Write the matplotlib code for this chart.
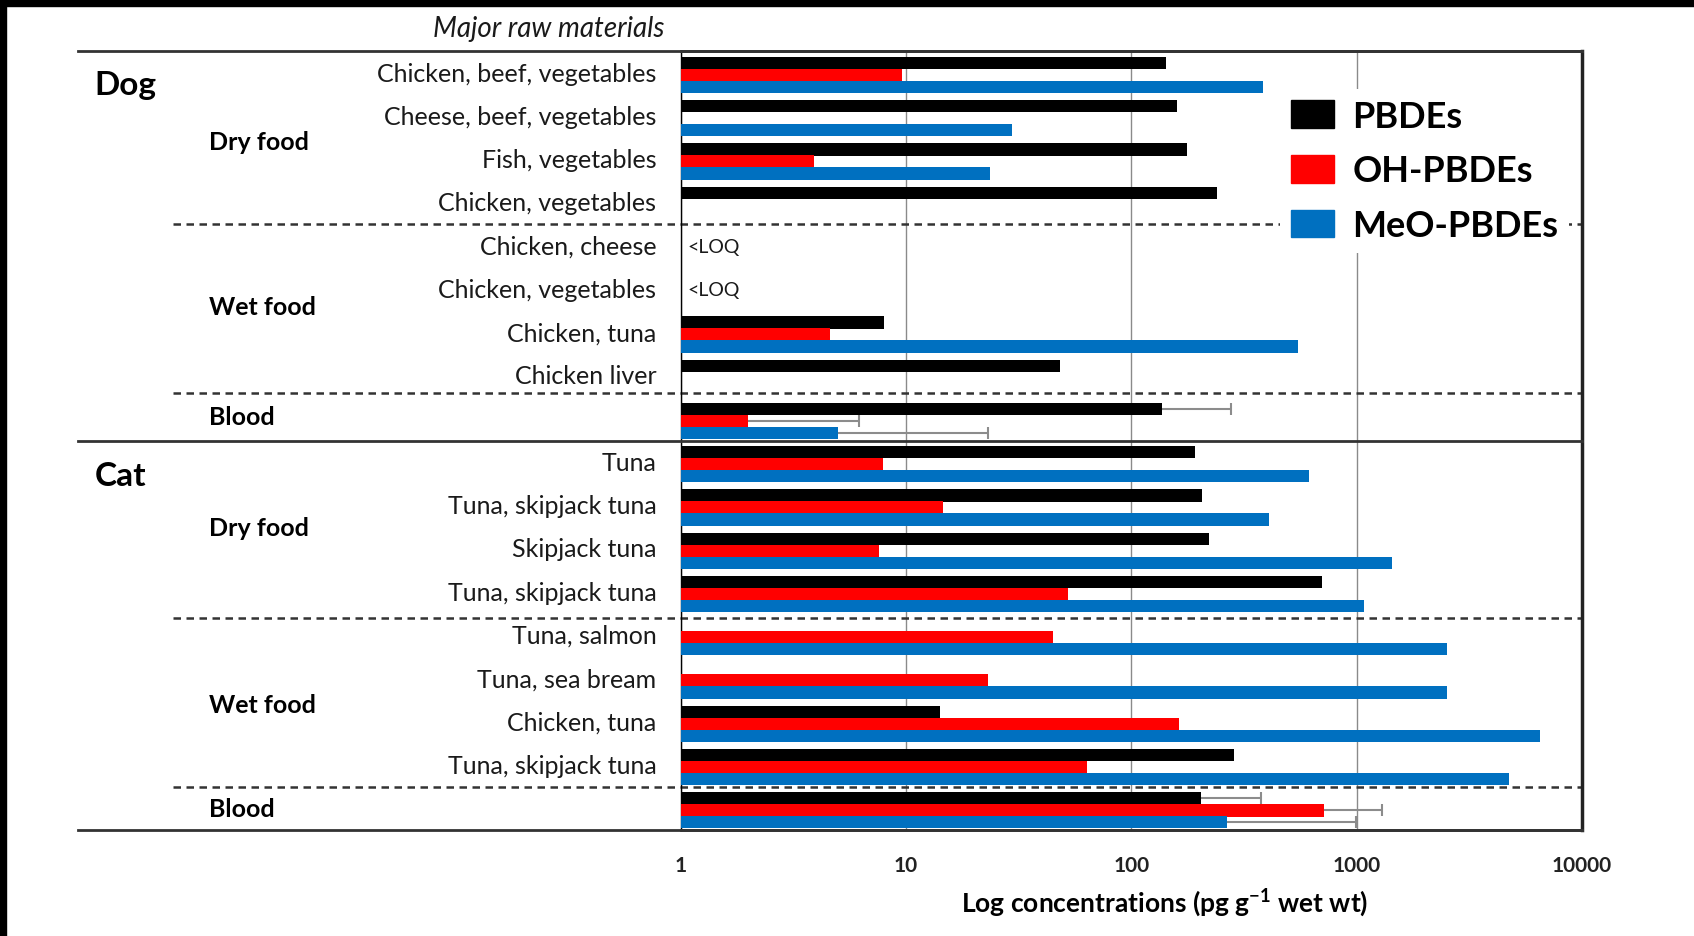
import numpy as np
import matplotlib.pyplot as plt
from matplotlib.patches import Patch, Rectangle
from matplotlib.ticker import FixedLocator, NullLocator

plt.rcParams['font.family'] = 'Lato'
plt.rcParams['mathtext.fontset'] = 'custom'
plt.rcParams['mathtext.rm'] = 'Lato'
plt.rcParams['mathtext.bf'] = 'Lato:bold'

# ---------------- data (pg/g wet wt) ----------------
nan = np.nan
materials = [
    "Chicken, beef, vegetables", "Cheese, beef, vegetables", "Fish, vegetables",
    "Chicken, vegetables", "Chicken, cheese", "Chicken, vegetables",
    "Chicken, tuna", "Chicken liver", "",
    "Tuna", "Tuna, skipjack tuna", "Skipjack tuna", "Tuna, skipjack tuna",
    "Tuna, salmon", "Tuna, sea bream", "Chicken, tuna", "Tuna, skipjack tuna", "",
]
pbdes = np.array([142, 159, 176, 241, nan, nan, 8.0, 48.2, 137,
                  192, 207, 222, 704, nan, nan, 14.1, 286, 203])
oh_pbdes = np.array([9.6, nan, 3.9, nan, nan, nan, 4.6, nan, 2.0,
                     7.9, 14.6, 7.6, 52.3, 45, 23.2, 163, 63.7, 718])
meo_pbdes = np.array([386, 29.5, 23.5, nan, nan, nan, 550, nan, 4.97,
                      614, 408, 1442, 1074, 2520, 2520, 6550, 4755, 267])

# blood rows carry an upper error bound
blood_rows = [8, 17]
pbdes_hi = [276, 378]
oh_hi = [6.18, 1300]
meo_hi = [23.2, 990]

loq_rows = [4, 5]

series = [
    ("PBDEs", pbdes, pbdes_hi, "#000000", -0.235),
    ("OH-PBDEs", oh_pbdes, oh_hi, "#ff0000", 0.045),
    ("MeO-PBDEs", meo_pbdes, meo_hi, "#0070c0", 0.32),
]

# ---------------- figure ----------------
fig = plt.figure(figsize=(16.94, 9.37), dpi=100)
fig.patches.append(Rectangle((0, 1 - 7 / 937), 1, 7 / 937, transform=fig.transFigure,
                             color="black", zorder=10))
fig.patches.append(Rectangle((0, 0), 6 / 1694, 1, transform=fig.transFigure,
                             color="black", zorder=10))

ax = fig.add_axes([0.4018, 0.1131, 0.5320, 0.8309])
rows = np.arange(len(materials))

for name, vals, hi, color, off in series:
    m = ~np.isnan(vals)
    ax.barh(rows[m] + off, vals[m] - 1, left=1, height=0.285, color=color,
            zorder=3, label=name)
    v = vals[blood_rows]
    eb = ax.errorbar(v, rows[blood_rows] + off,
                     xerr=[np.zeros(len(v)), np.array(hi) - v],
                     fmt="none", ecolor="#8c8c8c", elinewidth=1.5,
                     capsize=4, capthick=1.5, zorder=4)
    eb.lines[1][0].set_visible(False)

ax.set_xscale("log")
ax.set_xlim(1, 10000)
ax.set_ylim(17.5, -0.5)
ax.set_yticks([])
ax.xaxis.set_major_locator(FixedLocator([1, 10, 100, 1000, 10000]))
ax.xaxis.set_minor_locator(NullLocator())
ax.set_xticklabels(["1", "10", "100", "1000", "10000"], fontsize=15,
                   fontweight="bold", color="#222222")
ax.tick_params(axis="x", length=0, pad=18)
ax.xaxis.grid(True, color="#8a8a8a", lw=1, zorder=0)

ax.spines["left"].set_linewidth(1)
ax.spines["left"].set_color("black")
for s in ["top", "bottom"]:
    ax.spines[s].set_linewidth(2)
    ax.spines[s].set_color("#333333")
ax.spines["right"].set_linewidth(2.5)
ax.spines["right"].set_color("#222222")

tr = ax.get_yaxis_transform()

# solid separators running into the label area
for y in [-0.5, 8.5, 17.5]:
    ax.plot([-0.669, 1], [y, y], transform=tr, color="#333333", lw=2,
            clip_on=False, zorder=5)
# dashed separators between food types
for y in [3.5, 7.4, 12.6, 16.5]:
    ax.plot([-0.5636, 1], [y, y], transform=tr, color="#333333", lw=1.8,
            ls=(0, (3, 2.2)), clip_on=False, zorder=2)

for i, lab in enumerate(materials):
    if lab:
        ax.text(-0.027, i, lab, transform=tr, ha="right", va="center",
                fontsize=18, color="#1a1a1a")
for i in loq_rows:
    ax.text(0.007, i, "<LOQ", transform=tr, ha="left", va="center",
            fontsize=14, color="#1a1a1a")

ax.text(-0.1464, -1.05, "Major raw materials", transform=tr, ha="center",
        va="center", fontsize=20, style="italic", color="#1a1a1a")

ax.text(-0.650, 0.275, "Dog", transform=tr, ha="left", va="center",
        fontsize=24, fontweight="bold")
ax.text(-0.650, 9.3, "Cat", transform=tr, ha="left", va="center",
        fontsize=24, fontweight="bold")
groups = [("Dry food", 1.575), ("Wet food", 5.4), ("Blood", 7.95),
          ("Dry food", 10.5), ("Wet food", 14.6), ("Blood", 17.0)]
for lab, y in groups:
    ax.text(-0.523, y, lab, transform=tr, ha="left", va="center",
            fontsize=18, fontweight="bold")

fig.text(0.6877, 0.0363, r"Log concentrations (pg g$^{\mathbf{-1}}$ wet wt)",
         ha="center", va="center", fontsize=19, fontweight="bold")

handles = [Patch(color=c) for _, _, _, c, _ in series]
leg = ax.legend(handles, [s[0] for s in series], loc="upper left",
                bbox_to_anchor=(0.645, 0.975), frameon=True, facecolor="white",
                edgecolor="none", framealpha=1,
                prop={"weight": "bold", "size": 26}, handlelength=1.2,
                handleheight=0.8, handletextpad=0.5, labelspacing=0.6,
                borderpad=0.3)
leg.set_zorder(6)

fig.savefig("out.png", dpi=100, facecolor="white")
